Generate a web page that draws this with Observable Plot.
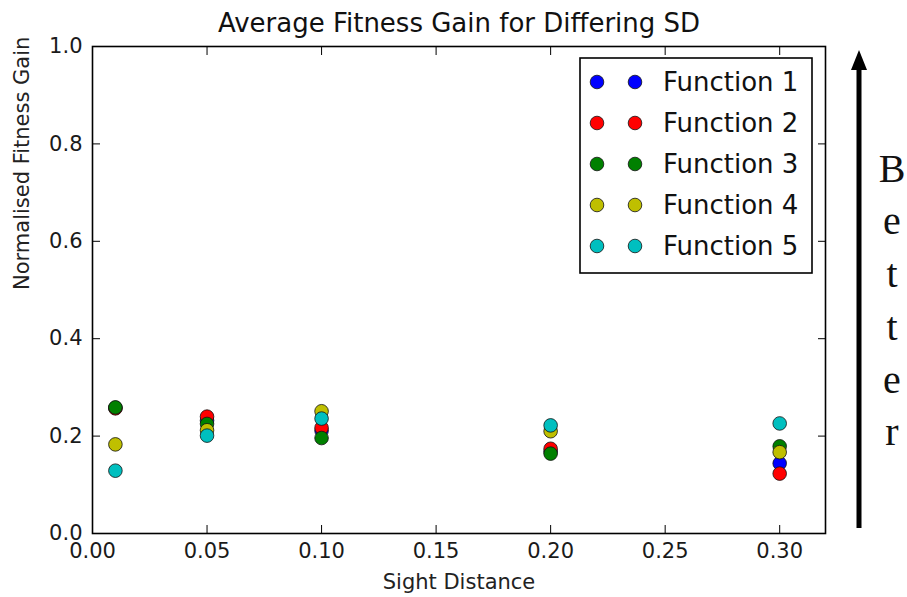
<!DOCTYPE html>
<html>
<head>
<meta charset="utf-8">
<script src="https://cdn.jsdelivr.net/npm/d3@7"></script>
<script src="https://cdn.jsdelivr.net/npm/@observablehq/plot@0.6"></script>
<style>
  html, body { margin: 0; padding: 0; background: white; }
  #chart { width: 907px; height: 597px; }
</style>
</head>
<body>
<div id="chart"></div>
<script>
// ---- data ----
const sightDistance = [0.01, 0.05, 0.10, 0.20, 0.30];
const seriesNames = ["Function 1", "Function 2", "Function 3", "Function 4", "Function 5"];
const function1 = [0.258, 0.232, 0.211, 0.168, 0.144];
const function2 = [0.257, 0.240, 0.217, 0.174, 0.123];
const function3 = [0.259, 0.225, 0.196, 0.164, 0.179];
const function4 = [0.183, 0.212, 0.251, 0.210, 0.167];
const function5 = [0.129, 0.201, 0.236, 0.222, 0.226];
const seriesColors = ["#0000ff", "#ff0000", "#008000", "#bfbf00", "#00bfbf"];
const xTicks = [0.00, 0.05, 0.10, 0.15, 0.20, 0.25, 0.30];
const yTicks = [0.0, 0.2, 0.4, 0.6, 0.8, 1.0];
const titleText = "Average Fitness Gain for Differing SD";
const xLabel = "Sight Distance";
const yLabel = "Normalised Fitness Gain";
const sideWord = "Better";

const allSeries = [function1, function2, function3, function4, function5];
const table = [];
allSeries.forEach((vals, i) => {
  vals.forEach((v, j) => table.push({sd: sightDistance[j], gain: v, fn: seriesNames[i]}));
});

const font = "'DejaVu Sans', sans-serif";
const tickLen = -8;
const noLabel = () => "";

const plot = Plot.plot({
  width: 907,
  height: 597,
  marginLeft: 92,
  marginRight: 82,
  marginTop: 46,
  marginBottom: 64,
  style: {fontFamily: font, fontSize: "21px", color: "#1a1a1a", background: "white", overflow: "visible"},
  x: {domain: [0, 0.32]},
  y: {domain: [0, 1]},
  color: {domain: seriesNames, range: seriesColors},
  marks: [
    // tick labels
    Plot.axisX(xTicks, {anchor: "bottom", tickSize: 0, tickPadding: 10, tickFormat: d3.format(".2f"), label: null, fontSize: 21}),
    Plot.axisY(yTicks, {anchor: "left", tickSize: 0, tickPadding: 10, tickFormat: d3.format(".1f"), label: null, fontSize: 21}),
    // inward ticks on all four sides
    Plot.axisX(xTicks, {anchor: "bottom", tickSize: tickLen, tickFormat: noLabel, label: null, stroke: "black"}),
    Plot.axisX(xTicks, {anchor: "top", tickSize: tickLen, tickFormat: noLabel, label: null, stroke: "black"}),
    Plot.axisY(yTicks, {anchor: "left", tickSize: tickLen, tickFormat: noLabel, label: null, stroke: "black"}),
    Plot.axisY(yTicks, {anchor: "right", tickSize: tickLen, tickFormat: noLabel, label: null, stroke: "black"}),
    // data
    Plot.dot(table, {x: "sd", y: "gain", fill: "fn", r: 6.8, stroke: "#111", strokeWidth: 0.8}),
    Plot.frame({stroke: "black", strokeWidth: 1.6}),
    // texts
    Plot.text([titleText], {frameAnchor: "top", dy: -23, fontSize: 26, lineAnchor: "middle", fill: "#111"}),
    Plot.text([xLabel], {frameAnchor: "bottom", dy: 49, fontSize: 21, lineAnchor: "middle", fill: "#222"}),
    Plot.text([yLabel], {frameAnchor: "left", dx: -70, rotate: -90, fontSize: 21, lineAnchor: "middle", fill: "#222"})
  ]
});

document.getElementById("chart").appendChild(plot);

// ---- legend (inside the plot, upper right) ----
const svg = d3.select(plot);
const color = plot.scale("color");
const lg = svg.append("g").attr("class", "legend");
const lx = 580, ly = 58, lw = 232, lh = 215, rowH = 41, firstRow = 24;
lg.append("rect").attr("x", lx).attr("y", ly).attr("width", lw).attr("height", lh)
  .attr("fill", "white").attr("stroke", "black").attr("stroke-width", 1.6);
seriesNames.forEach((name, i) => {
  const cy = ly + firstRow + i * rowH;
  const c = color.apply(name);
  [17, 55].forEach(off => {
    lg.append("circle").attr("cx", lx + off).attr("cy", cy).attr("r", 6.8)
      .attr("fill", c).attr("stroke", "#111").attr("stroke-width", 0.8);
  });
  lg.append("text").attr("x", lx + 83).attr("y", cy).attr("dy", "0.35em")
    .attr("text-anchor", "start")
    .attr("font-family", font).attr("font-size", 26).attr("fill", "#111").text(name);
});

// ---- "Better" arrow on the right ----
const ag = svg.append("g").attr("class", "better");
const ax = 859, aTop = 50, aBottom = 528;
ag.append("line").attr("x1", ax).attr("x2", ax).attr("y1", aBottom).attr("y2", aTop + 16)
  .attr("stroke", "black").attr("stroke-width", 5);
ag.append("path").attr("d", `M${ax},${aTop} L${ax - 8},${aTop + 20} L${ax + 8},${aTop + 20} Z`).attr("fill", "black");
const baselines = [182, 234, 287, 340, 393, 445];
sideWord.split("").forEach((ch, i) => {
  ag.append("text").attr("x", 892).attr("y", baselines[i]).attr("text-anchor", "middle")
    .attr("font-family", "'Liberation Serif', 'Times New Roman', serif").attr("font-size", 40)
    .attr("fill", "#111").text(ch);
});
</script>
</body>
</html>
